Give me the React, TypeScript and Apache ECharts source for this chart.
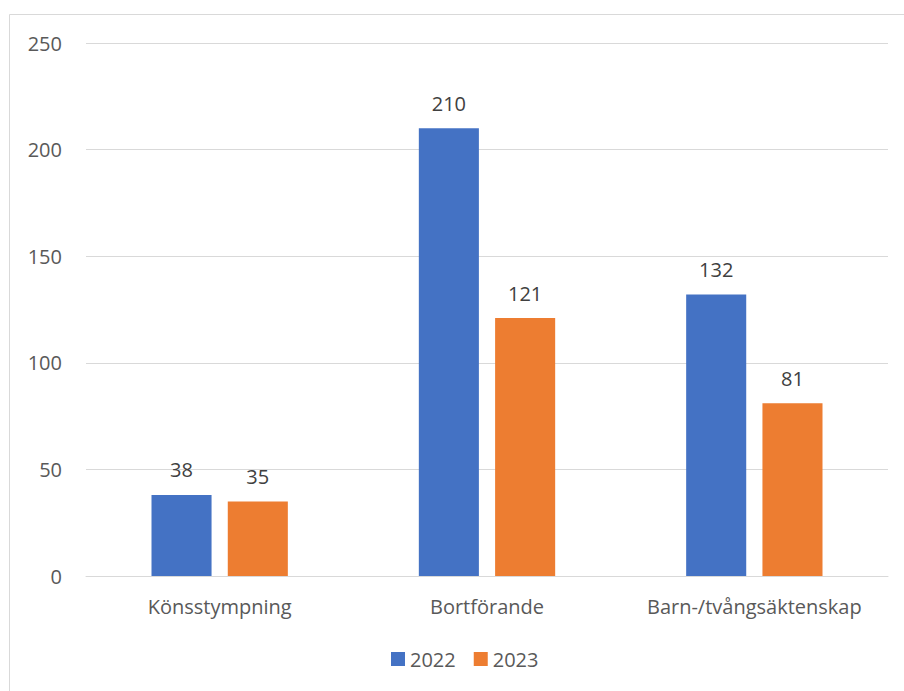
import React, { useEffect, useRef } from "react";
import * as echarts from "echarts";

const categories = ["Könsstympning", "Bortförande", "Barn-/tvångsäktenskap"];
const values2022 = [38, 210, 132];
const values2023 = [35, 121, 81];
const seriesNames = ["2022", "2023"];

export default function App() {
  const ref = useRef<HTMLDivElement>(null);
  useEffect(() => {
    const chart = echarts.init(ref.current!, null, { renderer: "svg" });
    const font = "'Open Sans', 'Noto Sans', sans-serif";
    const fs = 20;
    const label = {
      show: true,
      position: "top",
      distance: 15,
      color: "#404040",
      fontSize: fs,
      fontFamily: font,
    };
    chart.setOption({
      animation: false,
      backgroundColor: "#ffffff",
      textStyle: { fontFamily: font },
      graphic: [
        {
          type: "rect",
          shape: { x: 9.5, y: 14.5, width: 1000, height: 1000 },
          style: { fill: "none", stroke: "#d9d9d9", lineWidth: 1 },
          silent: true,
        },
      ],
      grid: { left: 86, right: 16, top: 43, bottom: 115, containLabel: false },
      legend: {
        data: seriesNames,
        bottom: 17,
        left: 386,
        itemWidth: 14,
        itemHeight: 14,
        itemGap: 18,
        icon: "rect",
        textStyle: { color: "#595959", fontSize: fs, fontFamily: font },
      },
      xAxis: {
        type: "category",
        data: categories,
        axisLine: { lineStyle: { color: "#d9d9d9", width: 1 } },
        axisTick: { show: false },
        axisLabel: {
          color: "#595959",
          fontSize: fs,
          fontFamily: font,
          margin: 20,
          interval: 0,
          hideOverlap: false,
        },
      },
      yAxis: {
        type: "value",
        min: 0,
        max: 250,
        interval: 50,
        axisLine: { show: false },
        axisTick: { show: false },
        splitLine: { lineStyle: { color: "#d9d9d9", width: 1 } },
        axisLabel: { color: "#595959", fontSize: fs, fontFamily: font, margin: 24 },
      },
      series: [
        {
          name: seriesNames[0],
          type: "bar",
          data: values2022,
          itemStyle: { color: "#4472C4" },
          barGap: "27%",
          barCategoryGap: "49%",
          label,
        },
        {
          name: seriesNames[1],
          type: "bar",
          data: values2023,
          itemStyle: { color: "#ED7D31" },
          barGap: "27%",
          barCategoryGap: "49%",
          label,
        },
      ],
    });
    return () => chart.dispose();
  }, []);
  return (
    <div
      ref={ref}
      style={{ position: "absolute", left: 0, top: 0, width: 904, height: 691 }}
    />
  );
}
